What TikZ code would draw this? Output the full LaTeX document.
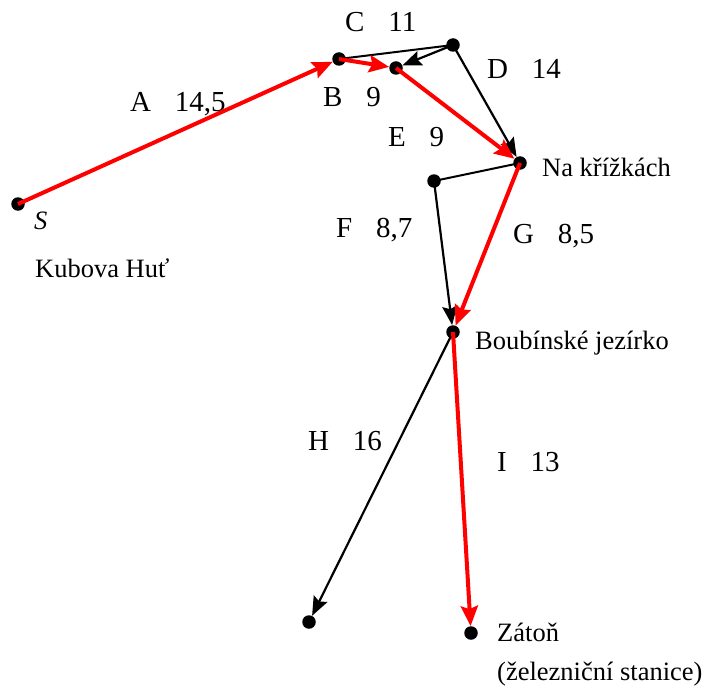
\documentclass[tikz,border=0pt]{standalone}
\usepackage{fontspec}
\setmainfont{Liberation Serif}
\newfontfamily\rtserif{Liberation Serif}
\usetikzlibrary{arrows.meta}
\definecolor{rtred}{HTML}{FF0000}
\definecolor{rtink}{HTML}{000000}
\newcommand{\rtgap}{\hspace{0.82em}}
\tikzset{
  rt dot/.style={circle, fill=rtink, inner sep=0pt, minimum size=13.5pt},
  rt route/.style={-{Stealth[length=20pt 0 0,width=17pt 0 0,inset=3pt]}, line width=4pt,
    draw=rtred},
  rt path/.style={-{Stealth[length=19pt 0 0,width=15pt 0 0,inset=3pt]}, line width=2.2pt,
    draw=rtink},
  rt link/.style={line width=2pt, draw=rtink},
  rt edge label/.style={font=\rtserif\fontsize{29}{34}\selectfont, anchor=base west,
    inner sep=0pt, text=rtink},
  rt place/.style={font=\rtserif\fontsize{26.5}{31}\selectfont, anchor=base west,
    inner sep=0pt, text=rtink}
}

\begin{document}
\begin{tikzpicture}[x=1pt, y=-1pt]
  \useasboundingbox (0,0) rectangle (711,687);
  % junctions
  \node[rt dot] (s) at (18,204) {};
  \node[rt dot] (b1) at (339,59) {};
  \node[rt dot] (b2) at (396,68) {};
  \node[rt dot] (d0) at (453,45) {};
  \node[rt dot] (krizky) at (520,163) {};
  \node[rt dot] (f0) at (434,181) {};
  \node[rt dot] (boubin) at (453,332) {};
  \node[rt dot] (h0) at (309,622) {};
  \node[rt dot] (zaton) at (471,633) {};
  % places
  \node[rt place, font=\rtserif\fontsize{26.5}{31}\selectfont\itshape] (sLbl) at (34,229) {S};
  \node[rt place] (kubovaLbl) at (35,277) {Kubova Huť};
  \node[rt place] (krizkyLbl) at (542,176) {Na křížkách};
  \node[rt place] (boubinLbl) at (475,349) {Boubínské jezírko};
  \node[rt place] (zatonLbl) at (497,641) {Zátoň};
  \node[rt place] (stationLbl) at (497,680) {(železniční stanice)};
  % edge lengths
  \foreach \x/\y/\e/\v in {130/112/A/{14,5},345/32/C/11,323/107/B/9,487/79/D/14,
      388/147/E/9,336/237/F/{8,7},513/243/G/{8,5},308/450/H/16,497/471/I/13} {
    \node[rt edge label] (len\e) at (\x,\y) {\e\rtgap\v};
  }
  % connections
  \draw[rt link] (b1.center) -- (d0.center);
  \draw[rt link] (krizky.center) -- (f0.center);
  \draw[rt path] (d0.center) -- (b2);
  \draw[rt path] (d0.center) -- (krizky);
  \draw[rt path] (f0.center) -- (boubin);
  \draw[rt path] (boubin.center) -- (h0);
  \draw[rt route] (s.center) -- (b1);
  \draw[rt route] (b1.center) -- (b2);
  \draw[rt route] (b2.center) -- (krizky);
  \draw[rt route] (krizky.center) -- (boubin);
  \draw[rt route] (boubin.center) -- (zaton);
\end{tikzpicture}
\end{document}
